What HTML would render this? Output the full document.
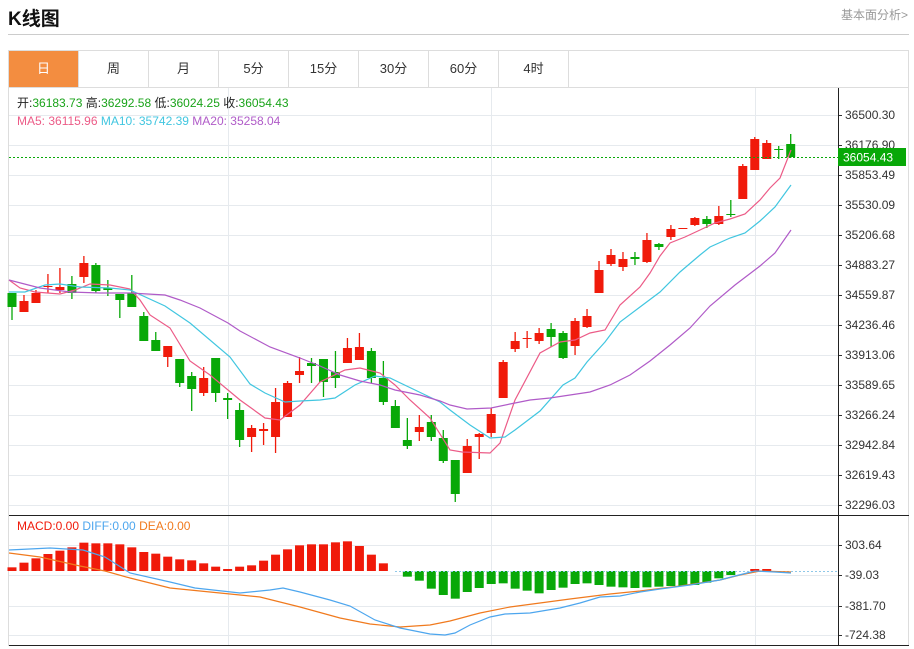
<!DOCTYPE html>
<html><head><meta charset="utf-8"><style>
body{margin:0;width:914px;height:649px;background:#fff;font-family:"Liberation Sans","Noto Sans CJK SC",sans-serif;overflow:hidden;position:relative}
.t{position:absolute;left:8px;top:4px;font-size:19px;font-weight:bold;color:#111}
.r{position:absolute;right:6px;top:6px;font-size:12px;color:#999}
.hl{position:absolute;left:8px;top:34px;width:901px;height:1px;background:#ccc}
.tabs{position:absolute;left:8px;top:50px;width:899px;height:36px;border:1px solid #ddd;}
.tab{position:absolute;top:0;width:70px;height:36px;line-height:36px;text-align:center;font-size:13px;color:#333;border-right:1px solid #ddd;box-sizing:border-box}
</style></head><body>
<div class="t">K线图</div><div class="r">基本面分析&gt;</div><div class="hl"></div>
<div class="tabs">
<div class="tab" style="left:0;background:#f38d40;color:#fff">日</div>
<div class="tab" style="left:70px">周</div><div class="tab" style="left:140px">月</div>
<div class="tab" style="left:210px">5分</div><div class="tab" style="left:280px">15分</div>
<div class="tab" style="left:350px">30分</div><div class="tab" style="left:420px">60分</div>
<div class="tab" style="left:490px">4时</div></div>
<svg id="s" width="914" height="649" style="position:absolute;left:0;top:0" font-family="Liberation Sans, Noto Sans CJK SC, sans-serif"></svg>
<script>
var S='';
function L(x1,y1,x2,y2,c,w,d){S+='<line x1="'+x1+'" y1="'+y1+'" x2="'+x2+'" y2="'+y2+'" stroke="'+c+'" stroke-width="'+(w||1)+'"'+(d?' stroke-dasharray="'+d+'"':'')+'/>';}
function R(x,y,w,h,c){S+='<rect x="'+x+'" y="'+y+'" width="'+w+'" height="'+Math.max(h,1)+'" fill="'+c+'"/>';}
function T(x,y,t,c,sz,a){S+='<text x="'+x+'" y="'+y+'" fill="'+c+'" font-size="'+(sz||12)+'"'+(a?' text-anchor="'+a+'"':'')+'>'+t+'</text>';}
function P(pts,c){S+='<polyline fill="none" stroke="'+c+'" stroke-width="1.2" points="'+pts+'"/>';}
// frame
L(8.5,87,8.5,646,'#ddd');L(908.5,87,908.5,646,'#ddd');
var ys=[115,145,175,205,235,265,295,325,355,385,415,445,475,505];
var lb=['36500.30','36176.90','35853.49','35530.09','35206.68','34883.27','34559.87','34236.46','33913.06','33589.65','33266.24','32942.84','32619.43','32296.03'];
ys.forEach(function(y,i){L(9,y+.5,838,y+.5,'#e6eaee');L(838,y+.5,842,y+.5,'#333');T(845,y+4,lb[i],'#333',12);});
[545,575,606,635].forEach(function(y,i){L(9,y+.5,838,y+.5,'#e6eaee');L(838,y+.5,842,y+.5,'#333');T(845,y+4,['303.64','-39.03','-381.70','-724.38'][i],'#333',12);});
[228,491,755].forEach(function(x){L(x+.5,88,x+.5,645,'#e6eaee');});
L(838.5,88,838.5,646,'#222');L(9,515.5,909,515.5,'#222');L(9,645.5,909,645.5,'#222');
// candles: [bodyTop,bodyBot,high,low,red]
var C=[[293,307,293,320,0],[301,312,295,312,1],[293,303,290,303,1],[286,287,274,293,1],[287,290,268,293,1],[284,293,276,299,0],[263,277,256,283,1],[265,291,263,293,0],[288,290,280,296,0],[294,300,294,318,0],[293,307,275,307,0],[316,341,312,341,0],[340,351,332,351,0],[346,357,346,367,1],[359,383,359,387,0],[376,389,372,411,0],[378,393,367,396,1],[358,393,358,402,0],[398,400,393,419,0],[410,440,403,447,0],[428,437,425,452,1],[429,431,423,445,1],[402,437,388,453,1],[383,417,381,417,1],[371,375,357,383,1],[363,366,358,383,0],[359,382,359,397,0],[372,378,351,388,0],[348,363,338,363,1],[347,360,333,360,1],[351,378,348,383,0],[378,402,361,405,0],[406,428,400,428,0],[440,446,418,449,0],[427,432,415,441,1],[422,437,415,441,0],[438,461,430,463,0],[460,494,460,502,0],[446,473,439,473,1],[434,437,433,459,1],[414,433,408,437,1],[362,398,360,398,1],[341,349,332,352,1],[338,339,331,348,1],[333,341,328,344,1],[329,337,323,347,0],[333,358,331,359,0],[321,346,318,355,1],[316,327,309,328,1],[270,293,261,293,1],[255,264,249,266,1],[259,267,252,271,1],[257,259,252,265,0],[240,262,233,263,1],[244,247,243,250,0],[229,237,225,240,1],[228,229,228,229,1],[218,225,217,226,1],[219,224,216,228,0],[216,224,206,225,1],[214,215,200,217,0],[166,199,164,199,1],[139,170,137,170,1],[143,159,140,159,1],[149,150,146,159,0],[144,157,134,158,0]];
function X(i){return 12+i*11.98;}
C.forEach(function(c,i){var x=X(i),col=c[4]?'#f01a0a':'#08a808';L(x,c[2],x,c[3],col,1.3);R(x-4.5,c[0],9,c[1]-c[0],col);});
P('9,280 20,288 35,292 60,294 75,290 90,284 110,285 130,289 140,300 150,315 170,328 190,361 210,375 240,400 265,418 280,420 300,405 320,382 345,370 360,368 380,373 395,385 410,400 430,418 450,450 462,452 490,453 500,443 515,400 540,353 560,342 575,340 590,333 605,330 620,305 640,287 650,273 660,256 670,243 685,237 700,230 715,223 730,219 745,214 760,200 770,188 780,178 791,150','#ec5b87');
P('9,292 25,292 45,285 60,284 80,287 110,288 130,290 165,306 190,323 230,357 250,384 265,393 285,402 300,401 320,400 335,398 355,385 375,376 390,378 415,390 440,402 450,410 470,425 490,438 505,437 515,430 540,411 563,385 575,378 587,362 605,342 620,322 640,307 660,292 680,272 700,255 710,247 730,238 745,233 760,221 775,207 791,185','#41c6e0');
P('9,280 40,288 70,292 100,293 130,293 165,295 180,300 200,308 228,323 240,331 270,347 300,358 320,366 340,375 360,381 380,385 395,390 420,395 440,401 450,405 467,409 491,408 510,404 530,400 550,398 570,395 590,392 610,385 630,375 650,361 670,345 690,328 710,306 735,285 760,266 775,253 791,230','#b05bc8');
// current price
L(9,157.5,838,157.5,'#08a808',1,'2,2');R(838,148,68,18,'#08a808');T(843,161.5,'36054.43','#fff',12);
// info
S+='<text x="17" y="107" font-size="12" fill="#222">开:<tspan fill="#1aa31a">36183.73</tspan>  高:<tspan fill="#1aa31a">36292.58</tspan>  低:<tspan fill="#1aa31a">36024.25</tspan>  收:<tspan fill="#1aa31a">36054.43</tspan></text>';
S+='<text x="17" y="125" font-size="12"><tspan fill="#ec5b87">MA5: 36115.96</tspan>   <tspan fill="#41c6e0">MA10: 35742.39</tspan>   <tspan fill="#b05bc8">MA20: 35258.04</tspan></text>';
S+='<text x="17" y="530" font-size="12"><tspan fill="#f01a0a">MACD:0.00</tspan>  <tspan fill="#4da6ee">DIFF:0.00</tspan>  <tspan fill="#f07a1e">DEA:0.00</tspan></text>';
// MACD hist
var red=[172,158,145,132,122,112,98,100,100,103,112,126,131,140,148,151,160,170,177,170,166,152,134,118,106,103,103,97,94,108,134,160];
red.forEach(function(v,i){var t=510+v/3;R(X(i)-4.5,t,9,571-t,'#f01a0a');});
var gr=[200,212,236,255,266,246,234,222,220,236,242,250,240,233,222,220,225,230,232,234,232,230,228,228,225,218,205,195];
gr.forEach(function(v,i){var b=510+v/3;R(X(33+i)-4.5,571,9,b-571,'#08a808');});
[62,63].forEach(function(i){R(X(i)-4.5,569,9,2,'#f01a0a');});
L(395,571.5,838,571.5,'#8fc8e8',1,'2,2');
P('9,553 40,557 80,566 105,571 130,578 170,588 230,594 260,597 300,607 340,618 370,624 400,627 430,625 450,621 480,613 510,607 540,603 570,599 610,594 640,591 680,586 720,580 740,575 760,571 791,572','#f07a1e');
P('9,550 50,548 83,550 105,557 130,573 170,582 195,588 240,593 270,590 283,588 300,592 330,600 350,606 375,620 400,628 430,634 445,635 455,633 470,625 490,617 505,614 530,613 560,608 580,603 600,597 620,596 640,592 660,589 690,585 720,580 735,576 755,571 775,572 791,573','#4da6ee');
document.getElementById('s').innerHTML=S;
</script>
</body></html>
